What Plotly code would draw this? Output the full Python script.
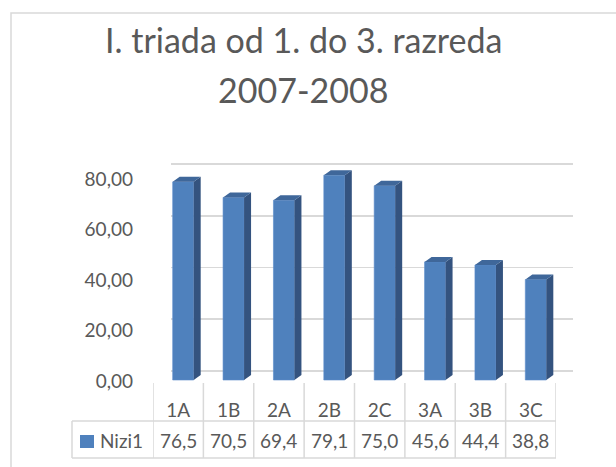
import plotly.graph_objects as go

# ---- data ----
categories = ["1A", "1B", "2A", "2B", "2C", "3A", "3B", "3C"]
values = [76.5, 70.5, 69.4, 79.1, 75.0, 45.6, 44.4, 38.8]
series_name = "Nizi1"
y_ticks = [0, 20, 40, 60, 80]
title_line1 = "I. triada od 1. do 3. razreda"
title_line2 = "2007-2008"

W, H = 616, 467
FONT = "Lato, 'Open Sans', sans-serif"
TXT = "#595959"
GRID = "#d9d9d9"
FRONT = "#4f81bd"
SIDE = "#34537f"
TOP = "#3f679a"
FS = 19


def fx(px):
    return px / W


def fy(px):
    return (H - px) / H


# front (bar) axis scale: 0 at 380px, 2.59 px per unit
PPU = 2.59
CAT_PX = (556 - 153) / 8.0
bar_w = 21 / CAT_PX
bar_shift = 5 / CAT_PX
off = bar_shift - bar_w / 2
dx = 7 / CAT_PX
dy = 5 / PPU

xs = list(range(len(categories)))

fig = go.Figure()

# back wall grid subplot (x, y) - invisible dummy trace
fig.add_trace(go.Scatter(x=[0.5], y=[0], mode="markers", marker=dict(opacity=0),
                         xaxis="x", yaxis="y", hoverinfo="skip", showlegend=False))

# front faces
fig.add_trace(go.Bar(x=xs, y=values, width=[bar_w] * len(xs), offset=[off] * len(xs),
                     marker=dict(color=FRONT, line=dict(width=0.6, color="#5a8ccb")),
                     xaxis="x2", yaxis="y2", name=series_name, showlegend=False,
                     hoverinfo="skip"))

# side and top faces derived from the values
sx, sy, tx, ty = [], [], [], []
for i, v in zip(xs, values):
    xl = i + off
    xr = xl + bar_w
    sx += [xr, xr, xr + dx, xr + dx, xr, None]
    sy += [0, v, v + dy, dy, 0, None]
    tx += [xl, xr, xr + dx, xl + dx, xl, None]
    ty += [v, v, v + dy, v + dy, v, None]
fig.add_trace(go.Scatter(x=sx, y=sy, fill="toself", fillcolor=SIDE, mode="lines",
                         line=dict(width=0, color=SIDE), xaxis="x2", yaxis="y2",
                         hoverinfo="skip", showlegend=False))
fig.add_trace(go.Scatter(x=tx, y=ty, fill="toself", fillcolor=TOP, mode="lines",
                         line=dict(width=0, color=TOP), xaxis="x2", yaxis="y2",
                         hoverinfo="skip", showlegend=False))

# label axis subplot dummy
fig.add_trace(go.Scatter(x=[0], y=[0], mode="markers", marker=dict(opacity=0),
                         xaxis="x3", yaxis="y3", hoverinfo="skip", showlegend=False))

BACK_PPU = 2.5875
fig.update_layout(
    template="none",
    width=W, height=H,
    margin=dict(l=0, r=0, t=0, b=0, autoexpand=False),
    paper_bgcolor="white", plot_bgcolor="rgba(0,0,0,0)",
    separators=",.",
    showlegend=False,
    hovermode=False,
    font=dict(family=FONT, color=TXT),
    xaxis=dict(domain=[fx(171), fx(573)], range=[0, 1], visible=False, anchor="y",
               automargin=False),
    yaxis=dict(domain=[fy(371 + BACK_PPU), fy(164 - BACK_PPU)], range=[-1, 81],
               tickvals=y_ticks, showticklabels=False, ticks="",
               showgrid=True, gridcolor=GRID, gridwidth=1.6, zeroline=False,
               showline=False, anchor="x", automargin=False),
    xaxis2=dict(domain=[fx(153), fx(556)], range=[-0.5, 7.5], anchor="y2",
                tickvals=xs, ticktext=categories, ticks="", showgrid=False,
                zeroline=False, showline=False, ticklabelstandoff=14, automargin=False,
                tickfont=dict(family=FONT, size=FS, color=TXT)),
    yaxis2=dict(domain=[fy(383), fy(150)], range=[(380 - 383) / PPU, (380 - 150) / PPU],
                visible=False, anchor="x2", automargin=False),
    xaxis3=dict(domain=[fx(134), fx(150)], range=[0, 1], visible=False, anchor="y3",
                automargin=False),
    yaxis3=dict(domain=[fy(381 + 2.525), fy(179 - 2.525)], range=[-1, 81], anchor="x3",
                tickvals=y_ticks, tickformat=".2f", ticks="", showgrid=False,
                zeroline=False, showline=False, automargin=False,
                tickfont=dict(family=FONT, size=FS, color=TXT)),
)

shapes = []
# chart border
shapes.append(dict(type="rect", xref="paper", yref="paper", x0=fx(11), x1=1.2,
                   y0=fy(13), y1=-0.2, line=dict(color=GRID, width=1.5),
                   fillcolor="rgba(0,0,0,0)", layer="below"))
# left wall diagonals (back gridline -> front)
for v in y_ticks:
    shapes.append(dict(type="line", xref="x", yref="y", xsizemode="pixel",
                       ysizemode="pixel", xanchor=0, yanchor=v, x0=0, x1=-18,
                       y0=0, y1=-12.5, line=dict(color=GRID, width=1.6), layer="below"))
# data table grid
for i in range(len(categories) + 1):
    shapes.append(dict(type="line", xref="x2", yref="paper", x0=i - 0.5, x1=i - 0.5,
                       y0=fy(383), y1=fy(458), line=dict(color=GRID, width=1.5)))
shapes.append(dict(type="line", xref="paper", yref="paper", x0=fx(72), x1=fx(72),
                   y0=fy(421), y1=fy(458), line=dict(color=GRID, width=1.5)))
for yy in (421, 458):
    shapes.append(dict(type="line", xref="paper", yref="paper", x0=fx(72), x1=fx(556),
                       y0=fy(yy), y1=fy(yy), line=dict(color=GRID, width=1.5)))
# legend key
shapes.append(dict(type="rect", xref="paper", yref="paper", x0=fx(80), x1=fx(94),
                   y0=fy(448), y1=fy(435), fillcolor=FRONT, line=dict(width=0)))
fig.update_layout(shapes=shapes)

annotations = []
for i, v in zip(xs, values):
    annotations.append(dict(x=i, xref="x2", y=fy(440), yref="paper",
                            text=f"{v:.1f}".replace(".", ","), showarrow=False,
                            xanchor="center", yanchor="middle",
                            font=dict(family=FONT, size=FS, color=TXT)))
annotations.append(dict(x=fx(98), xref="paper", y=fy(440), yref="paper", text=series_name,
                        showarrow=False, xanchor="left", yanchor="middle",
                        font=dict(family=FONT, size=FS, color=TXT)))
annotations.append(dict(x=fx(303), xref="paper", y=fy(40), yref="paper", text=title_line1,
                        showarrow=False, xanchor="center", yanchor="middle",
                        font=dict(family=FONT, size=34, color=TXT)))
annotations.append(dict(x=fx(303), xref="paper", y=fy(89), yref="paper", text=title_line2,
                        showarrow=False, xanchor="center", yanchor="middle",
                        font=dict(family=FONT, size=34, color=TXT)))
fig.update_layout(annotations=annotations)

fig.write_html("out.html", config={"displayModeBar": False, "staticPlot": True},
               post_script="document.body.style.margin='0px';")
